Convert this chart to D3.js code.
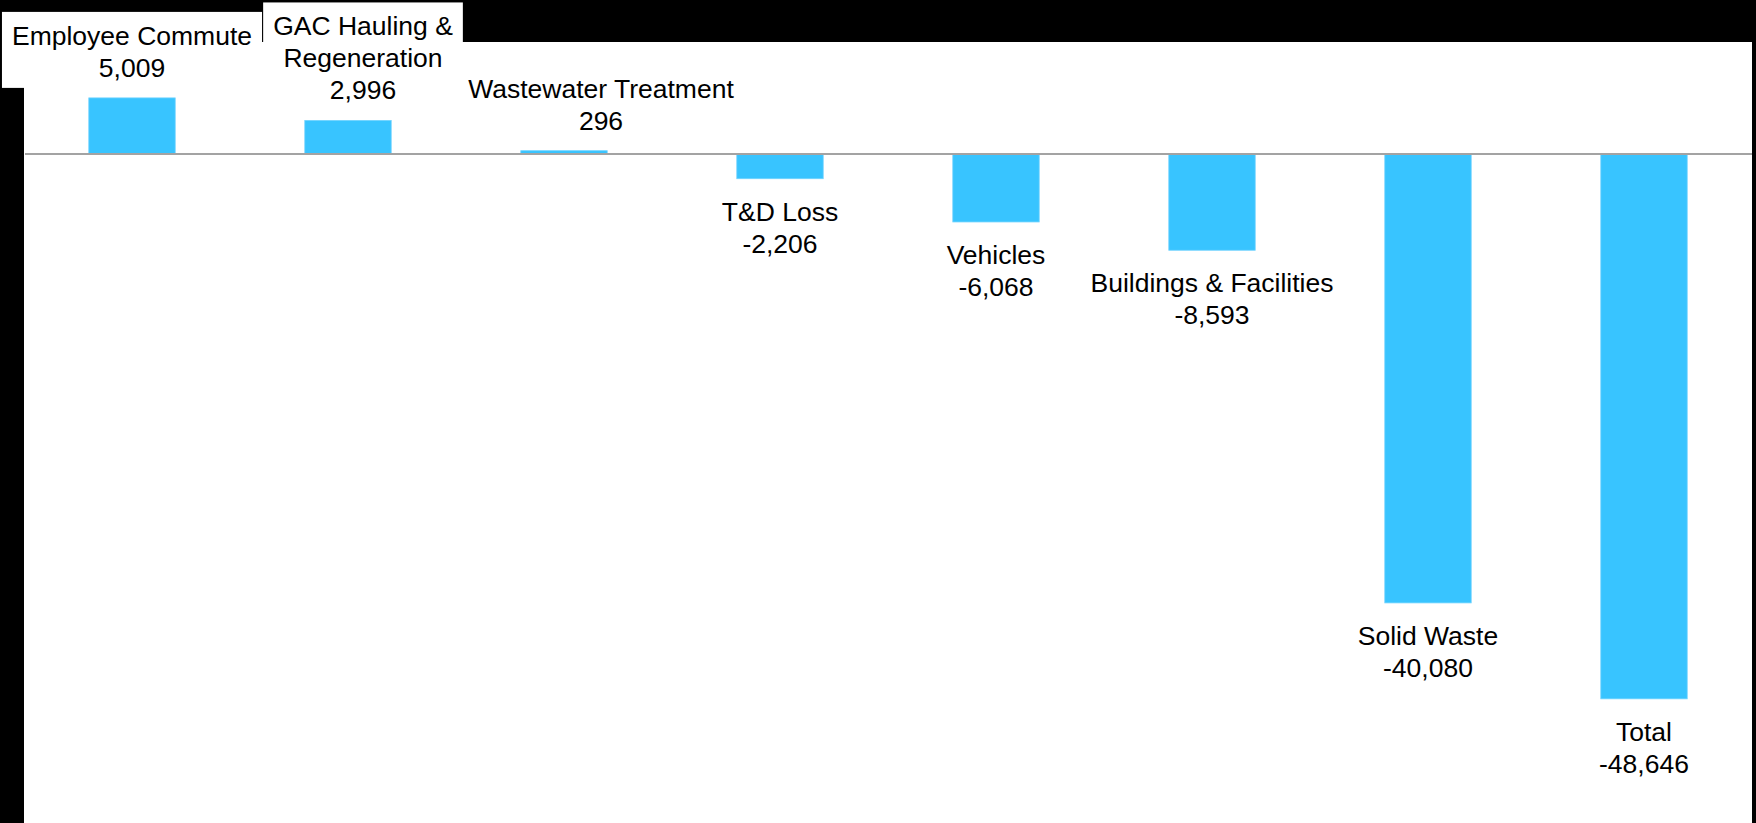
<!DOCTYPE html>
<html>
<head>
<meta charset="utf-8">
<script src="https://cdn.jsdelivr.net/npm/d3@7"></script>
<style>
  html, body { margin: 0; padding: 0; background: #000; }
  svg { display: block; }
  text { font-family: "Liberation Sans", Arial, sans-serif; font-size: 26.5px; fill: #000; }
</style>
</head>
<body>
<svg id="chart" width="1756" height="823"></svg>
<script>
// ---- data ----
const categories = [
  "Employee Commute",
  "GAC Hauling &\nRegeneration",
  "Wastewater Treatment",
  "T&D Loss",
  "Vehicles",
  "Buildings & Facilities",
  "Solid Waste",
  "Total"
];
const values = [5009, 2996, 296, -2206, -6068, -8593, -40080, -48646];
// manual horizontal label nudges (px), as placed in the original
const labelNudge = [0, 15, 37, 0, 0, 0, 0, 0];

// ---- layout ----
const W = 1756, H = 823;
const plot = { left: 24, right: 1752, top: 42, bottom: 823 };
const svg = d3.select("#chart");

svg.append("rect").attr("x", 0).attr("y", 0).attr("width", W).attr("height", H).attr("fill", "#000");
svg.append("rect")
  .attr("x", plot.left).attr("y", plot.top)
  .attr("width", plot.right - plot.left).attr("height", plot.bottom - plot.top)
  .attr("fill", "#fff");

const x = d3.scaleBand()
  .domain(categories)
  .range([plot.left, plot.right])
  .paddingInner(0.6)
  .paddingOuter(0.3);

const y = d3.scaleLinear()
  .domain([-60000, 10000])
  .range([826, 42]);

const data = categories.map((c, i) => ({ cat: c, value: values[i], dx: labelNudge[i] }));

// bars
svg.append("g").selectAll("rect")
  .data(data)
  .join("rect")
  .attr("x", d => x(d.cat))
  .attr("width", x.bandwidth())
  .attr("y", d => Math.min(y(d.value), y(0)))
  .attr("height", d => Math.abs(y(d.value) - y(0)))
  .attr("fill", "#38c4ff")
  .attr("stroke", "#6fd3ff")
  .attr("stroke-width", 0.8);

// zero line
svg.append("line")
  .attr("x1", plot.left + 1).attr("x2", plot.right)
  .attr("y1", y(0)).attr("y2", y(0))
  .attr("stroke", "#a3a3a3").attr("stroke-width", 2);

// labels
const locale = d3.formatLocale({ decimal: ".", thousands: ",", grouping: [3], currency: ["$", ""], minus: "-" });
const fmt = locale.format(",");
const lineH = 32;
const labelG = svg.append("g");
data.forEach(d => {
  const lines = d.cat.split("\n").concat([fmt(d.value)]);
  const cx = x(d.cat) + x.bandwidth() / 2 + d.dx;
  let baselines;
  if (d.value >= 0) {
    const last = y(d.value) - 21;
    baselines = lines.map((l, i) => last - (lines.length - 1 - i) * lineH);
  } else {
    const first = y(d.value) + 42;
    baselines = lines.map((l, i) => first + i * lineH);
  }
  const g = labelG.append("g");
  const bg = g.append("rect").attr("fill", "#fff");
  const t = g.selectAll("text")
    .data(lines)
    .join("text")
    .attr("x", cx)
    .attr("y", (l, i) => baselines[i])
    .attr("text-anchor", "middle")
    .text(l => l);
  let maxW = 0;
  t.each(function () { maxW = Math.max(maxW, this.getComputedTextLength()); });
  const top = baselines[0] - 33;
  const bottom = baselines[baselines.length - 1] + 11;
  bg.attr("x", cx - maxW / 2 - 10)
    .attr("y", top)
    .attr("width", maxW + 20)
    .attr("height", bottom - top);
});
</script>
</body>
</html>
